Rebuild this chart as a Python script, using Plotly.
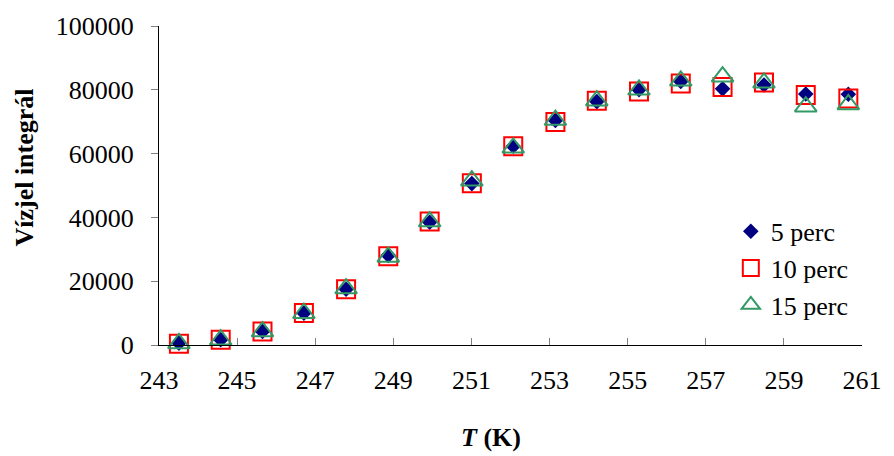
import plotly.graph_objects as go

# Temperature (K) of each measurement
temperature = [243.51, 244.58, 245.65, 246.71, 247.79, 248.87, 249.93, 251.01, 252.07,
               253.15, 254.21, 255.29, 256.36, 257.43, 258.49, 259.56, 260.65]

# Integrated water signal after 5, 10 and 15 minutes
signal_5 = [600, 1650, 4250, 10000, 17500, 28100, 38500, 50600, 62300,
            70400, 76300, 80000, 82600, 80300, 81500, 78700, 78600]
signal_10 = [400, 1650, 4250, 10050, 17500, 27800, 38700, 50700, 62300,
             69900, 76600, 79500, 82000, 80900, 82300, 78400, 77300]
signal_15 = [500, 1650, 4200, 9950, 17700, 27600, 38700, 51500, 61800,
             70500, 76600, 80000, 82800, 84100, 82200, 74700, 75400]

series_names = ["5 perc", "10 perc", "15 perc"]
x_ticks = [243, 245, 247, 249, 251, 253, 255, 257, 259, 261]
y_ticks = [0, 20000, 40000, 60000, 80000, 100000]

FONT = "Liberation Serif, Times New Roman, serif"

fig = go.Figure()
fig.add_trace(go.Scatter(
    x=temperature, y=signal_5, name=series_names[0], mode="markers",
    marker=dict(symbol="diamond", size=12, color="#000080",
                line=dict(width=0)),
    cliponaxis=False,
))
fig.add_trace(go.Scatter(
    x=temperature, y=signal_10, name=series_names[1], mode="markers",
    marker=dict(symbol="square-open", size=18, color="#FF0000",
                line=dict(width=2, color="#FF0000")),
    cliponaxis=False,
))
fig.add_trace(go.Scatter(
    x=temperature, y=signal_15, name=series_names[2], mode="markers",
    marker=dict(symbol="triangle-up-open", size=19, color="#339966",
                line=dict(width=2, color="#339966")),
    cliponaxis=False,
))

fig.update_layout(
    width=894, height=456,
    margin=dict(l=159, r=21, t=24, b=111),
    paper_bgcolor="white", plot_bgcolor="white",
    font=dict(family=FONT, size=26, color="black"),
    showlegend=True,
    legend=dict(
        x=0.8134, y=0.43, xanchor="left", yanchor="top",
        bgcolor="rgba(0,0,0,0)", borderwidth=0,
        font=dict(family=FONT, size=26, color="black"),
        tracegroupgap=0,
    ),
    xaxis=dict(
        range=[243, 261], tickmode="array", tickvals=x_ticks,
        ticktext=[str(t) for t in x_ticks],
        showline=True, linecolor="black", linewidth=1,
        ticks="inside", ticklen=7, tickcolor="#808080", tickwidth=1,
        showgrid=False, zeroline=False, ticklabelstandoff=12,
        tickfont=dict(family=FONT, size=26, color="black"),
    ),
    yaxis=dict(
        range=[0, 100000], tickmode="array", tickvals=y_ticks,
        ticktext=[str(t) for t in y_ticks],
        showline=True, linecolor="black", linewidth=1,
        ticks="outside", ticklen=7, tickcolor="#808080", tickwidth=1,
        showgrid=False, zeroline=False, ticklabelstandoff=12,
        tickfont=dict(family=FONT, size=26, color="black"),
    ),
    annotations=[
        dict(text="<b>Vízjel integrál</b>", textangle=-90,
             xref="paper", yref="paper", x=-0.1919, y=0.5565,
             xanchor="center", yanchor="middle", showarrow=False,
             font=dict(family=FONT, size=26, color="black")),
        dict(text="<b><i>T</i> (K)</b>",
             xref="paper", yref="paper", x=0.472, y=-0.29,
             xanchor="center", yanchor="middle", showarrow=False,
             font=dict(family=FONT, size=26, color="black")),
    ],
)

fig.write_html("out.html")
